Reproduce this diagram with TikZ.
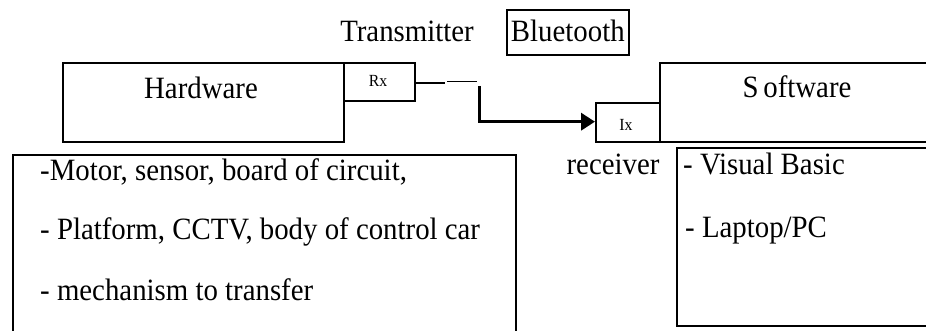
\documentclass[tikz,border=0pt]{standalone}
\usepackage{fontspec}
\setmainfont{Liberation Serif}
\usetikzlibrary{arrows.meta}
\newcommand\hsq[1]{\scalebox{0.93}[1]{#1}}
\tikzset{
  box/.style={draw, line width=1.6pt, inner sep=0pt, anchor=north west},
  txt/.style={inner sep=0pt, font=\fontsize{31}{37}\selectfont},
  tiny/.style={inner sep=0pt, font=\fontsize{17}{19}\selectfont},
  wire/.style={line width=1.6pt},
  bold wire/.style={line width=3.6pt}
}
\begin{document}
\begin{tikzpicture}[x=1pt,y=-1pt]
\useasboundingbox (0,0) rectangle (926,331);
\clip (0,0) rectangle (926,331);
% boxes
\node[box, minimum width=281pt, minimum height=79pt] (hw) at (62,62) {};
\node[box, minimum width=71pt, minimum height=38pt] (rx) at (343,62) {};
\node[box, minimum width=122pt, minimum height=45pt] (bt) at (506,9) {};
\node[box, minimum width=64pt, minimum height=39pt] (tx) at (595,102) {};
\node[box, minimum width=290pt, minimum height=79pt] (sw) at (659,62) {};
\node[box, minimum width=503pt, minimum height=200pt] (hwl) at (12,154) {};
\node[box, minimum width=270pt, minimum height=178pt] (swl) at (676,147) {};
% texts
\node[txt, anchor=base] (tTrans) at (407,42) {\hsq{Transmitter}};
\node[txt, anchor=base] (tBlue) at (bt.center |- 0,42) {\hsq{Bluetooth}};
\node[txt, anchor=base] (tHw) at (201,99) {\hsq{Hardware}};
\node[txt, anchor=base] (tSw) at (797,98) {\hsq{S\,oftware}};
\node[tiny, anchor=base] (tRx) at (378,87) {\hsq{Rx}};
\node[tiny, anchor=base] (tTx) at (626,131) {\hsq{Ix}};
\node[txt, anchor=base] (tRecv) at (613,175) {\hsq{receiver}};
\node[txt, anchor=base west] (l1) at (40,181) {\hsq{-Motor, sensor, board of circuit,}};
\node[txt, anchor=base west] (l2) at (40,239) {\hsq{- Platform, CCTV, body of control car}};
\node[txt, anchor=base west] (l3) at (40,300) {\hsq{- mechanism to transfer}};
\node[txt, anchor=base west] (r1) at (683,175) {\hsq{- Visual Basic}};
\node[txt, anchor=base west] (r2) at (685,237) {\hsq{- Laptop/PC}};
% connector
\coordinate (c1) at (445,83.3);
\coordinate (c2) at (447,81.7);
\coordinate (c3) at (477,81.7);
\coordinate (c4) at (479.3,86);
\coordinate (c5) at (479.3,121.7);
\draw[wire] (rx.east |- c1) -- (c1);
\draw[wire] (c2) -- (c3);
\draw[line width=2.6pt] (c4) -- ([yshift=-1.5pt]c5);
\draw[bold wire, -{Triangle[length=14pt,width=17pt]}] ([xshift=-1.3pt]c5) -- (tx.west |- c5);
\end{tikzpicture}
\end{document}
